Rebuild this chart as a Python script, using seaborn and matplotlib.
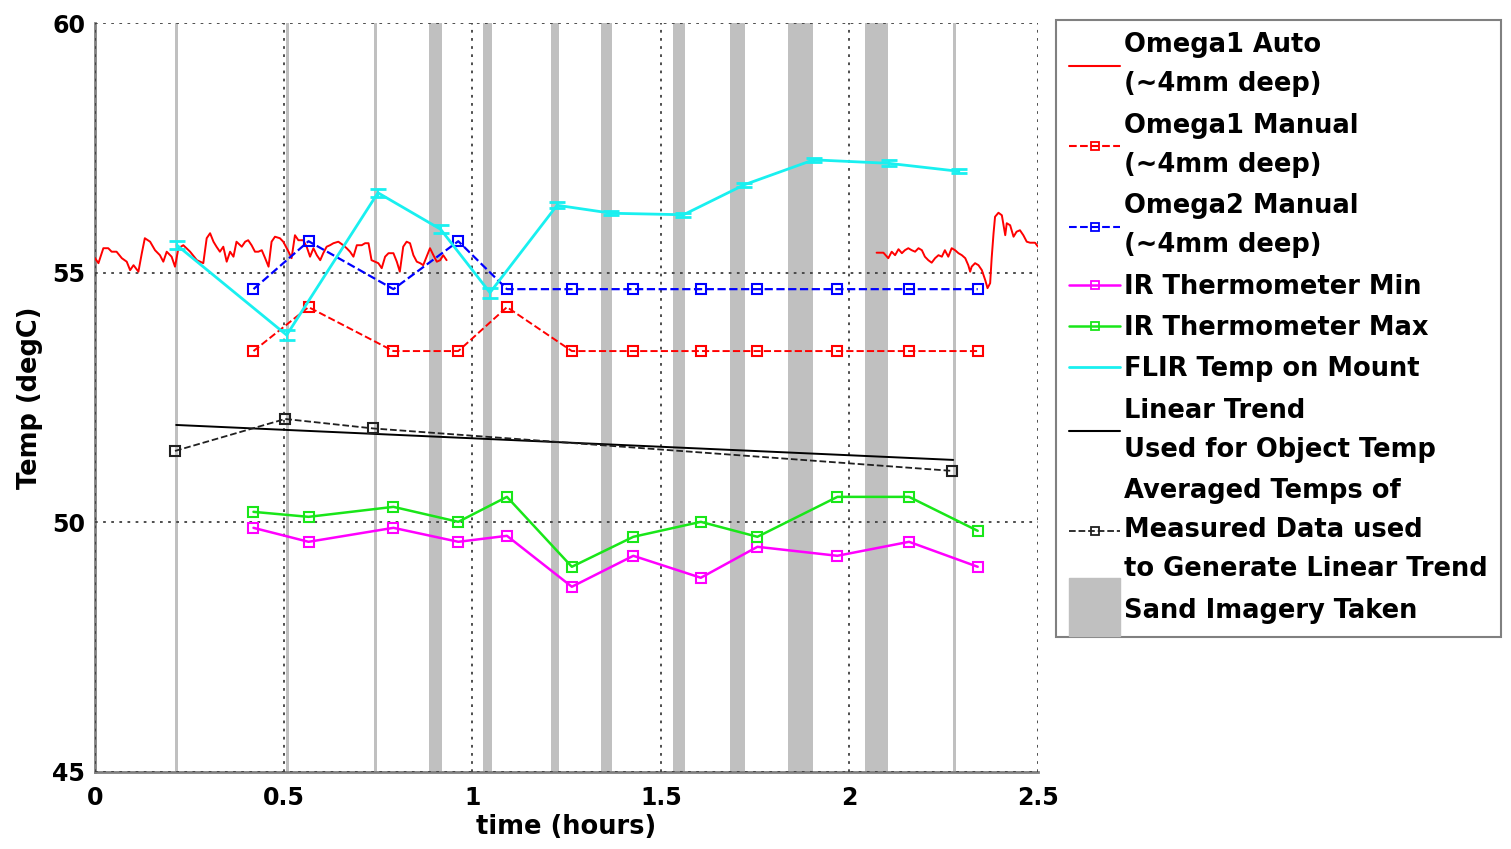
import numpy as np
import pandas as pd
import seaborn as sns
import matplotlib.pyplot as plt
import matplotlib.patches as mpatches
from matplotlib.lines import Line2D
from matplotlib.legend_handler import HandlerPatch

# ---- data ----
# Omega1 auto logger, first stretch
auto1_t = [0.000, 0.009, 0.022, 0.035, 0.044, 0.057, 0.071, 0.084, 0.093, 0.102,
           0.115, 0.124, 0.132, 0.146, 0.159, 0.172, 0.181, 0.190, 0.203, 0.212,
           0.221, 0.234, 0.252, 0.270, 0.287, 0.296, 0.305, 0.314, 0.322, 0.331,
           0.340, 0.349, 0.358, 0.367, 0.375, 0.389, 0.398, 0.406, 0.415, 0.424,
           0.433, 0.442, 0.451, 0.460, 0.468, 0.477, 0.490, 0.499, 0.513, 0.521,
           0.530, 0.539, 0.552, 0.561, 0.570, 0.579, 0.588, 0.597, 0.605, 0.614,
           0.623, 0.632, 0.645, 0.658, 0.667, 0.676, 0.685, 0.694, 0.707, 0.716,
           0.725, 0.733, 0.742, 0.751, 0.760, 0.769, 0.778, 0.791, 0.800, 0.808,
           0.817, 0.826, 0.835, 0.844, 0.853, 0.862, 0.870, 0.879, 0.888, 0.897,
           0.906, 0.915, 0.923, 0.932]
auto1_v = [55.29, 55.19, 55.49, 55.49, 55.42, 55.42, 55.29, 55.22, 55.05, 55.15,
           55.02, 55.39, 55.69, 55.62, 55.45, 55.35, 55.22, 55.42, 55.32, 55.12,
           55.49, 55.55, 55.42, 55.25, 55.19, 55.69, 55.79, 55.62, 55.52, 55.42,
           55.52, 55.22, 55.42, 55.32, 55.62, 55.52, 55.62, 55.65, 55.55, 55.42,
           55.42, 55.45, 55.29, 55.12, 55.62, 55.72, 55.69, 55.62, 55.42, 55.29,
           55.75, 55.65, 55.65, 55.52, 55.32, 55.49, 55.35, 55.25, 55.39, 55.52,
           55.55, 55.59, 55.62, 55.55, 55.49, 55.42, 55.32, 55.55, 55.55, 55.59,
           55.59, 55.25, 55.22, 55.19, 55.09, 55.32, 55.39, 55.39, 55.22, 55.02,
           55.52, 55.62, 55.59, 55.35, 55.22, 55.19, 55.15, 55.32, 55.49, 55.35,
           55.22, 55.25, 55.35, 55.25]
# Omega1 auto logger, second stretch
auto2_t = [2.072, 2.090, 2.103, 2.112, 2.121, 2.130, 2.139, 2.147, 2.156, 2.165,
           2.174, 2.183, 2.192, 2.200, 2.209, 2.218, 2.227, 2.236, 2.245, 2.253,
           2.262, 2.271, 2.280, 2.289, 2.298, 2.307, 2.315, 2.320, 2.324, 2.333,
           2.342, 2.351, 2.360, 2.366, 2.373, 2.377, 2.382, 2.386, 2.395, 2.404,
           2.413, 2.417, 2.426, 2.435, 2.443, 2.452, 2.461, 2.470, 2.479, 2.492,
           2.500]
auto2_v = [55.40, 55.40, 55.29, 55.42, 55.35, 55.47, 55.39, 55.45, 55.49, 55.45,
           55.42, 55.49, 55.45, 55.32, 55.25, 55.20, 55.29, 55.35, 55.32, 55.45,
           55.32, 55.49, 55.45, 55.39, 55.35, 55.29, 55.15, 55.02, 55.12, 55.19,
           55.15, 55.05, 54.85, 54.69, 54.79, 55.29, 55.79, 56.12, 56.20, 56.15,
           55.75, 55.99, 55.95, 55.72, 55.82, 55.85, 55.75, 55.62, 55.60, 55.60,
           55.52]

# manual readings
manual_t = [0.420, 0.566, 0.791, 0.963, 1.092, 1.264, 1.427, 1.606, 1.756, 1.968, 2.158, 2.340]
omega1_manual = [53.43, 54.31, 53.43, 53.43, 54.31, 53.43, 53.43, 53.43, 53.43, 53.43, 53.43, 53.43]
omega2_manual = [54.67, 55.63, 54.67, 55.63, 54.67, 54.67, 54.67, 54.67, 54.67, 54.67, 54.67, 54.67]
ir_min = [49.89, 49.61, 49.89, 49.61, 49.73, 48.71, 49.33, 48.89, 49.51, 49.33, 49.61, 49.11]
ir_max = [50.21, 50.11, 50.31, 50.01, 50.51, 49.11, 49.71, 50.01, 49.71, 50.51, 50.51, 49.83]

# FLIR temperature on mount
flir_t = [0.217, 0.508, 0.750, 0.916, 1.047, 1.225, 1.369, 1.560, 1.721, 1.905, 2.104, 2.290]
flir_v = [55.55, 53.75, 56.60, 55.87, 54.60, 56.35, 56.19, 56.16, 56.76, 57.26, 57.19, 57.03]
flir_err = [0.08, 0.10, 0.08, 0.08, 0.10, 0.06, 0.04, 0.04, 0.04, 0.04, 0.06, 0.04]

# trend lines
trend_t = [0.215, 2.275]
trend_v = [51.95, 51.25]
avg_t = [0.212, 0.504, 0.738, 2.273]
avg_v = [51.43, 52.07, 51.88, 51.03]

# periods when sand imagery was taken
band_start = [0.213, 0.506, 0.740, 0.886, 1.029, 1.209, 1.341, 1.532, 1.682, 1.838, 2.041, 2.274]
band_end = [0.221, 0.514, 0.748, 0.919, 1.052, 1.230, 1.371, 1.564, 1.723, 1.904, 2.103, 2.282]

labels = ['Omega1 Auto\n(~4mm deep)', 'Omega1 Manual\n(~4mm deep)',
          'Omega2 Manual\n(~4mm deep)', 'IR Thermometer Min',
          'IR Thermometer Max', 'FLIR Temp on Mount',
          'Linear Trend\nUsed for Object Temp',
          'Averaged Temps of\nMeasured Data used\nto Generate Linear Trend',
          'Sand Imagery Taken']

RED, BLUE, MAG, GRN, CYAN, GRAY = '#ff0000', '#0000ff', '#ff00ff', '#19e619', '#19f0f0', '#c0c0c0'

sns.set_style('white')
plt.rcParams['font.family'] = ['DejaVu Sans']
plt.rcParams['font.weight'] = 'bold'
plt.rcParams['text.color'] = 'black'
plt.rcParams['axes.labelcolor'] = 'black'
plt.rcParams['xtick.labelcolor'] = 'black'
plt.rcParams['ytick.labelcolor'] = 'black'

fig = plt.figure(figsize=(15.11, 8.49), dpi=100)
ax = fig.add_axes([0.0629, 0.0907, 0.6241, 0.8822])

for s, e in zip(band_start, band_end):
    ax.axvspan(s, e, color=GRAY, lw=0, zorder=1)

sq = dict(marker='s', markersize=7, markerfacecolor='none', markeredgewidth=1.5)

sns.lineplot(x=auto1_t, y=auto1_v, color=RED, lw=1.4, ax=ax, zorder=3)
sns.lineplot(x=auto2_t, y=auto2_v, color=RED, lw=1.4, ax=ax, zorder=3)
sns.lineplot(x=manual_t, y=omega1_manual, color=RED, lw=1.4, linestyle='--',
             markeredgecolor=RED, ax=ax, zorder=3, **sq)
sns.lineplot(x=manual_t, y=omega2_manual, color=BLUE, lw=1.6, linestyle='--',
             markeredgecolor=BLUE, ax=ax, zorder=3, **sq)
sns.lineplot(x=manual_t, y=ir_min, color=MAG, lw=1.8,
             markeredgecolor=MAG, ax=ax, zorder=3, **sq)
sns.lineplot(x=manual_t, y=ir_max, color=GRN, lw=1.8,
             markeredgecolor=GRN, ax=ax, zorder=3, **sq)
sns.lineplot(x=flir_t, y=flir_v, color=CYAN, lw=2.0, ax=ax, zorder=4)
ax.errorbar(flir_t, flir_v, yerr=flir_err, fmt='none', ecolor=CYAN,
            elinewidth=1.5, capsize=6, capthick=2, zorder=4)
sns.lineplot(x=trend_t, y=trend_v, color='black', lw=1.4, ax=ax, zorder=3)
sns.lineplot(x=avg_t, y=avg_v, color='#202020', lw=1.3, linestyle='--',
             markeredgecolor='#202020', ax=ax, zorder=3, **sq)

ax.set_xlim(0, 2.5)
ax.set_ylim(45, 60)
ax.set_xticks([0, 0.5, 1, 1.5, 2, 2.5])
ax.set_xticklabels(['0', '0.5', '1', '1.5', '2', '2.5'])
ax.set_yticks([45, 50, 55, 60])
ax.grid(True, linestyle=(0, (1.5, 3)), color='#404040', lw=1.3)
ax.set_axisbelow(False)
for side in ['top', 'right']:
    ax.spines[side].set_visible(False)
for side in ['left', 'bottom']:
    ax.spines[side].set_color('#808080')
    ax.spines[side].set_linewidth(2)
ax.tick_params(axis='both', labelsize=17, direction='in', length=5, width=1.2,
               color='#404040', pad=7)
ax.tick_params(axis='x', pad=10)
ax.set_xlabel('time (hours)', fontsize=18.5, fontweight='bold', labelpad=3)
ax.set_ylabel('Temp (degC)', fontsize=18.5, fontweight='bold', labelpad=7)

# legend, matlab style with markers in the middle of the sample line
mk = dict(marker='s', markersize=6, markerfacecolor='none', markeredgewidth=1.3)
handles = [
    Line2D([], [], color=RED, lw=1.5),
    Line2D([], [], color=RED, lw=1.5, ls='--', markeredgecolor=RED, **mk),
    Line2D([], [], color=BLUE, lw=1.5, ls='--', markeredgecolor=BLUE, **mk),
    Line2D([], [], color=MAG, lw=1.8, markeredgecolor=MAG, **mk),
    Line2D([], [], color=GRN, lw=1.8, markeredgecolor=GRN, **mk),
    Line2D([], [], color=CYAN, lw=2.0),
    Line2D([], [], color='black', lw=1.5),
    Line2D([], [], color='#202020', lw=1.3, ls='--', markeredgecolor='#202020', **mk),
    mpatches.Patch(color=GRAY),
]


def tall_patch(legend, orig_handle, xdescent, ydescent, width, height, fontsize):
    return mpatches.Rectangle((-xdescent, -ydescent - 1.0 * height), width, 3.2 * height)


leg = fig.legend(handles, labels, loc='upper left', bbox_to_anchor=(0.699, 0.977),
                 bbox_transform=fig.transFigure, borderaxespad=0, fontsize=18.5,
                 handlelength=2.0, handletextpad=0.15, borderpad=0.5,
                 labelspacing=0.6, fancybox=False, framealpha=1,
                 handler_map={mpatches.Patch: HandlerPatch(patch_func=tall_patch)})
leg.get_frame().set_edgecolor('#808080')
leg.get_frame().set_linewidth(1.5)
for t in leg.get_texts():
    t.set_linespacing(1.65)
    t.set_fontweight('bold')

fig.savefig('out.png', dpi=100)
